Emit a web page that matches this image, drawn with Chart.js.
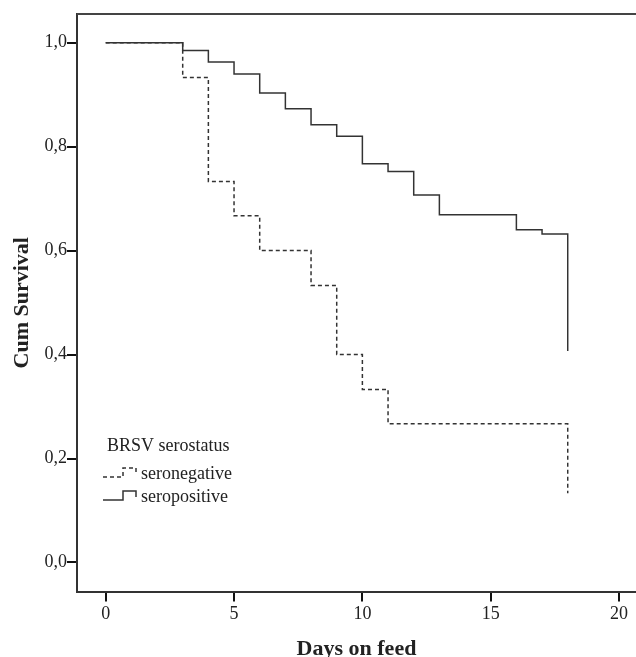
<!DOCTYPE html>
<html>
<head>
<meta charset="utf-8">
<script src="https://cdn.jsdelivr.net/npm/chart.js@4.4.1/dist/chart.umd.min.js"></script>
<style>
    html, body { margin: 0; padding: 0; background: #fff; }
    canvas { display: block; }
</style>
</head>
<body>
<canvas id="kmChart" width="636" height="657"></canvas>
<script>
// Kaplan-Meier survival by BRSV serostatus

const xTicks = [0, 5, 10, 15, 20];
const yTicks = [0, 0.2, 0.4, 0.6, 0.8, 1.0];

const negDays = [0, 3, 4, 5, 6, 8, 9, 10, 11, 18];
const negSurvival = [1.0, 0.933, 0.733, 0.667, 0.600, 0.533, 0.400, 0.333, 0.267, 0.133];

const posDays = [0, 3, 4, 5, 6, 7, 8, 9, 10, 11, 12, 13, 16, 17, 18];
const posSurvival = [1.0, 0.985, 0.963, 0.940, 0.903, 0.873, 0.842, 0.820, 0.767, 0.752, 0.707, 0.669, 0.640, 0.632, 0.407];

const legendTitle = 'BRSV serostatus';
const groupLabels = ['seronegative', 'seropositive'];

const SERIF = "'Liberation Serif', 'Times New Roman', serif";
const INK = '#333';

function toPoints(days, values) {
    return days.map((d, i) => ({ x: d, y: values[i] }));
}

// legend drawn inside the plot, bottom-left
const stepLegend = {
    id: 'stepLegend',
    afterDraw(chart) {
        const ctx = chart.ctx;
        const area = chart.chartArea;
        ctx.save();

        // top frame line
        ctx.strokeStyle = '#444';
        ctx.lineWidth = 2;
        ctx.beginPath();
        ctx.moveTo(area.left, area.top);
        ctx.lineTo(area.right, area.top);
        ctx.stroke();

        ctx.fillStyle = '#222';
        ctx.font = '18px ' + SERIF;
        ctx.textBaseline = 'middle';
        ctx.fillText(legendTitle, 107, 446);

        const rows = [474, 497];
        const dashes = [[4, 3], []];
        rows.forEach((y, i) => {
            ctx.strokeStyle = INK;
            ctx.lineWidth = 1.5;
            ctx.setLineDash(dashes[i]);
            ctx.beginPath();
            ctx.moveTo(103, y + 3);
            ctx.lineTo(123, y + 3);
            ctx.lineTo(123, y - 6);
            ctx.lineTo(136, y - 6);
            ctx.lineTo(136, y);
            ctx.stroke();
            ctx.setLineDash([]);
            ctx.fillText(groupLabels[i], 141, y);
        });
        ctx.restore();
    }
};

new Chart(document.getElementById('kmChart'), {
    type: 'line',
    data: {
        datasets: [
            {
                label: groupLabels[1],
                data: toPoints(posDays, posSurvival),
                stepped: 'before',
                borderColor: INK,
                borderWidth: 1.5,
                pointRadius: 0,
                fill: false
            },
            {
                label: groupLabels[0],
                data: toPoints(negDays, negSurvival),
                stepped: 'before',
                borderColor: INK,
                borderWidth: 1.5,
                borderDash: [4, 3],
                pointRadius: 0,
                fill: false
            }
        ]
    },
    options: {
        responsive: false,
        animation: false,
        devicePixelRatio: 1,
        layout: {
            padding: { top: 14, left: 0, right: 0, bottom: 0 }
        },
        plugins: {
            legend: { display: false },
            tooltip: { enabled: false }
        },
        scales: {
            x: {
                type: 'linear',
                min: -1.118,
                max: 20.66,
                afterBuildTicks: function(scale) {
                    scale.ticks = xTicks.map(v => ({ value: v }));
                },
                afterFit: function(scale) {
                    scale.height = 65.5;
                },
                ticks: {
                    color: '#222',
                    padding: 2,
                    maxRotation: 0,
                    font: { family: SERIF, size: 18 }
                },
                grid: {
                    drawOnChartArea: false,
                    tickLength: 10,
                    color: '#111',
                    lineWidth: 2
                },
                border: {
                    display: true,
                    color: '#333',
                    width: 2
                },
                title: {
                    display: true,
                    text: 'Days on feed',
                    color: '#222',
                    padding: { top: 0, bottom: -6 },
                    font: { family: SERIF, size: 22, weight: 'bold' }
                }
            },
            y: {
                type: 'linear',
                min: -0.0558,
                max: 1.0552,
                afterBuildTicks: function(scale) {
                    scale.ticks = yTicks.map(v => ({ value: v }));
                },
                afterFit: function(scale) {
                    scale.width = 77;
                },
                ticks: {
                    color: '#222',
                    padding: 0,
                    font: { family: SERIF, size: 18 },
                    callback: function(value) {
                        return value.toFixed(1).replace('.', ',');
                    }
                },
                grid: {
                    drawOnChartArea: false,
                    tickLength: 10,
                    color: '#111',
                    lineWidth: 2
                },
                border: {
                    display: true,
                    color: '#333',
                    width: 2
                },
                title: {
                    display: true,
                    text: 'Cum Survival',
                    color: '#222',
                    padding: { top: 9, bottom: 0 },
                    font: { family: SERIF, size: 22, weight: 'bold' }
                }
            }
        }
    },
    plugins: [stepLegend]
});
</script>
</body>
</html>
